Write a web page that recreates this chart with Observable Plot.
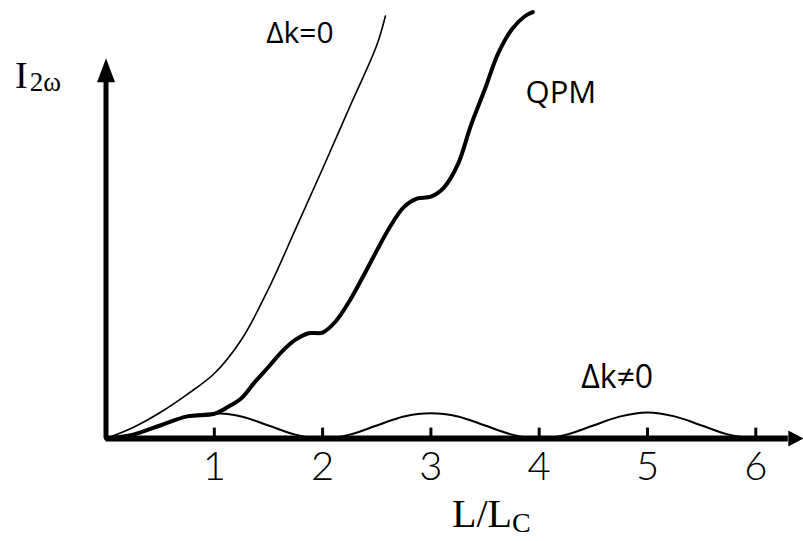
<!DOCTYPE html>
<html>
<head>
<meta charset="utf-8">
<script src="https://cdn.jsdelivr.net/npm/d3@7"></script>
<script src="https://cdn.jsdelivr.net/npm/@observablehq/plot@0.6"></script>
<style>
  body { margin: 0; background: #fff; }
  #chart svg { display: block; }
</style>
</head>
<body>
<div id="chart"></div>
<script>
// Second-harmonic intensity I(2ω) versus crystal length in coherence lengths L/Lc

// Integer coherence-length ticks
const xTicks = [1, 2, 3, 4, 5, 6];

// Perfect phase matching (Δk = 0)
const perfectL = [0, 0.25, 0.5, 0.75, 1, 1.25, 1.5, 1.75, 2, 2.25, 2.5, 2.58];
const perfectI = [0, 0.17, 0.4, 0.68, 1.0, 1.52, 2.3, 3.22, 4.15, 5.1, 6.05, 6.5];

// Quasi-phase matching (QPM)
const qpmL = [0, 0.25, 0.5, 0.75, 1, 1.12, 1.25, 1.37, 1.5, 1.62, 1.75, 1.87, 2, 2.12, 2.25, 2.37,
              2.5, 2.62, 2.75, 2.87, 3, 3.12, 3.25, 3.37, 3.5, 3.62, 3.75, 3.87, 3.94];
const qpmI = [0, 0.06, 0.2, 0.34, 0.38, 0.48, 0.62, 0.86, 1.1, 1.33, 1.52, 1.62, 1.63, 1.8, 2.12, 2.48,
              2.89, 3.25, 3.56, 3.69, 3.72, 3.86, 4.22, 4.82, 5.38, 5.92, 6.3, 6.5, 6.56];

// Phase mismatch (Δk ≠ 0)
const mismatchL = [0, 0.25, 0.5, 0.75, 1, 1.25, 1.5, 1.75, 2, 2.25, 2.5, 2.75, 3, 3.25, 3.5, 3.75,
                   4, 4.25, 4.5, 4.75, 5, 5.25, 5.5, 5.75, 6];
const mismatchI = [0, 0.06, 0.2, 0.34, 0.39, 0.34, 0.2, 0.06, 0, 0.06, 0.2, 0.34, 0.39, 0.34, 0.2, 0.06,
                   0, 0.06, 0.2, 0.34, 0.4, 0.34, 0.2, 0.06, 0];

// Curve labels
const labelText = ["Δk=0", "QPM", "Δk≠0"];
const labelL = [1.79, 4.2, 4.72];
const labelI = [6.23, 5.31, 0.94];
const labelSize = [30, 31, 32];

// Axis extents (arrow bases) in data units
const xAxisEnd = 6.3;
const yAxisEnd = 5.48;

const toRows = (xs, ys) => xs.map((x, i) => ({x, y: ys[i]}));
const perfect = toRows(perfectL, perfectI);
const qpm = toRows(qpmL, qpmI);
const mismatch = toRows(mismatchL, mismatchI);
const labels = labelText.map((t, i) => ({t, x: labelL[i], y: labelI[i], s: labelSize[i]}));

// Filled arrowheads; the symbol origin sits at the middle of the arrow's base
const arrowUp = {draw(ctx) { ctx.moveTo(0, -24); ctx.lineTo(9, 0); ctx.lineTo(-9, 0); ctx.closePath(); }};
const arrowSmall = {draw(ctx) { ctx.moveTo(0, -15); ctx.lineTo(8, 0); ctx.lineTo(-8, 0); ctx.closePath(); }};

const sans = "'Open Sans', Lato, 'DejaVu Sans', sans-serif";
const serif = "'Liberation Serif', 'DejaVu Serif', serif";

const plot = Plot.plot({
  width: 803,
  height: 541,
  marginLeft: 105.5,
  marginRight: 47.7,
  marginTop: 9,
  marginBottom: 103,
  x: {domain: [0, 6], axis: null},
  y: {domain: [0, 6.6], axis: null},
  style: {background: "#fff", overflow: "visible"},
  marks: [
    // axes
    Plot.ruleY([0], {x1: 0, x2: xAxisEnd, stroke: "#000", strokeWidth: 6}),
    Plot.ruleX([0], {y1: 0, y2: yAxisEnd + 0.05, stroke: "#000", strokeWidth: 5}),
    Plot.dot([{x: 0, y: yAxisEnd}], {x: "x", y: "y", symbol: arrowUp, fill: "#000", stroke: "none"}),
    Plot.dot([{x: xAxisEnd, y: 0}], {x: "x", y: "y", symbol: arrowSmall, rotate: 90, fill: "#000", stroke: "none"}),
    // tick marks and tick labels
    Plot.ruleX(xTicks, {x: d => d, y1: 0, y2: 0.16, stroke: "#000", strokeWidth: 3}),
    Plot.text(xTicks, {x: d => d, y: 0, text: d => String(d), dy: 29, fontSize: 40, fontWeight: 300,
                       fontFamily: "Lato, 'Open Sans', sans-serif", fill: "#000"}),
    // curves
    Plot.line(mismatch, {x: "x", y: "y", curve: "catmull-rom", stroke: "#000", strokeWidth: 2}),
    Plot.line(perfect, {x: "x", y: "y", curve: "catmull-rom", stroke: "#000", strokeWidth: 1.6}),
    Plot.line(qpm, {x: "x", y: "y", curve: "catmull-rom", stroke: "#000", strokeWidth: 4}),
    // curve labels
    Plot.text(labels, {x: "x", y: "y", text: "t", fontSize: d => d.s, fontFamily: sans, fill: "#000"})
  ]
});

document.getElementById("chart").append(plot);

// Axis titles with subscripts
const svg = d3.select(plot);
const yTitle = svg.append("text")
  .attr("x", 15).attr("y", 88).attr("text-anchor", "start")
  .attr("font-family", serif).attr("font-size", 38).attr("fill", "#000");
yTitle.append("tspan").text("I");
yTitle.append("tspan").attr("font-size", 27).attr("dy", 3).attr("dx", 2).text("2ω");

const xTitle = svg.append("text")
  .attr("x", 452).attr("y", 527).attr("text-anchor", "start")
  .attr("font-family", serif).attr("font-size", 40).attr("fill", "#000");
xTitle.append("tspan").text("L/L");
xTitle.append("tspan").attr("font-size", 28).attr("dy", 5).text("C");
</script>
</body>
</html>
